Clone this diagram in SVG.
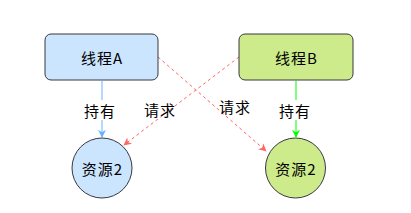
<svg xmlns="http://www.w3.org/2000/svg" width="411" height="213" viewBox="0 0 411 213">
<style>
text{font-family:"Noto Sans CJK SC","Noto Sans",sans-serif;font-size:15px;letter-spacing:1px;text-anchor:middle;dominant-baseline:central;fill:#000}
.n{stroke:#36393d;stroke-width:1}
.e{fill:none;stroke-width:1}
.lbl{fill:#fff}
</style>
<defs>
<marker id="mb" viewBox="0 0 10 10" refX="9" refY="5" markerWidth="8" markerHeight="8" orient="auto" markerUnits="userSpaceOnUse"><path d="M0,0 L10,5 L0,10 L3,5 Z" fill="#66b2ff"/></marker>
<marker id="mg" viewBox="0 0 10 10" refX="9" refY="5" markerWidth="8" markerHeight="8" orient="auto" markerUnits="userSpaceOnUse"><path d="M0,0 L10,5 L0,10 L3,5 Z" fill="#00ff00"/></marker>
<marker id="mr" viewBox="0 0 10 10" refX="9" refY="5" markerWidth="8" markerHeight="8" orient="auto" markerUnits="userSpaceOnUse"><path d="M0,0 L10,5 L0,10 L3,5 Z" fill="#ff6666"/></marker>
</defs>
<g id="edges">
<line class="e" x1="102" y1="81" x2="102" y2="137" stroke="#66b2ff" marker-end="url(#mb)"/>
<line class="e" x1="296" y1="81" x2="296" y2="137" stroke="#00ff00" marker-end="url(#mg)"/>
<line class="e" x1="158" y1="57" x2="266" y2="151" stroke="#ff6666" stroke-dasharray="3 3" marker-end="url(#mr)"/>
<line class="e" x1="239" y1="57" x2="124" y2="145" stroke="#ff6666" stroke-dasharray="3 3" marker-end="url(#mr)"/>
<rect class="lbl" x="84" y="100" width="34" height="20"/>
<text x="100" y="110">持有</text>
<rect class="lbl" x="278" y="100" width="34" height="20"/>
<text x="295" y="110">持有</text>
<text x="160" y="109">请求</text>
<text x="235" y="106">请求</text>
</g>
<g id="threadA"><rect class="n" x="45" y="34" width="113" height="46" rx="6" fill="#cce5ff"/><text x="102" y="57">线程A</text></g>
<g id="threadB"><rect class="n" x="239" y="34" width="114" height="46" rx="6" fill="#cdeb8b"/><text x="296.5" y="57">线程B</text></g>
<g id="resA"><circle class="n" cx="102" cy="168" r="30" fill="#cce5ff"/><text x="102.5" y="168">资源2</text></g>
<g id="resB"><circle class="n" cx="295.5" cy="168" r="30" fill="#cdeb8b"/><text x="296" y="168">资源2</text></g>
</svg>
